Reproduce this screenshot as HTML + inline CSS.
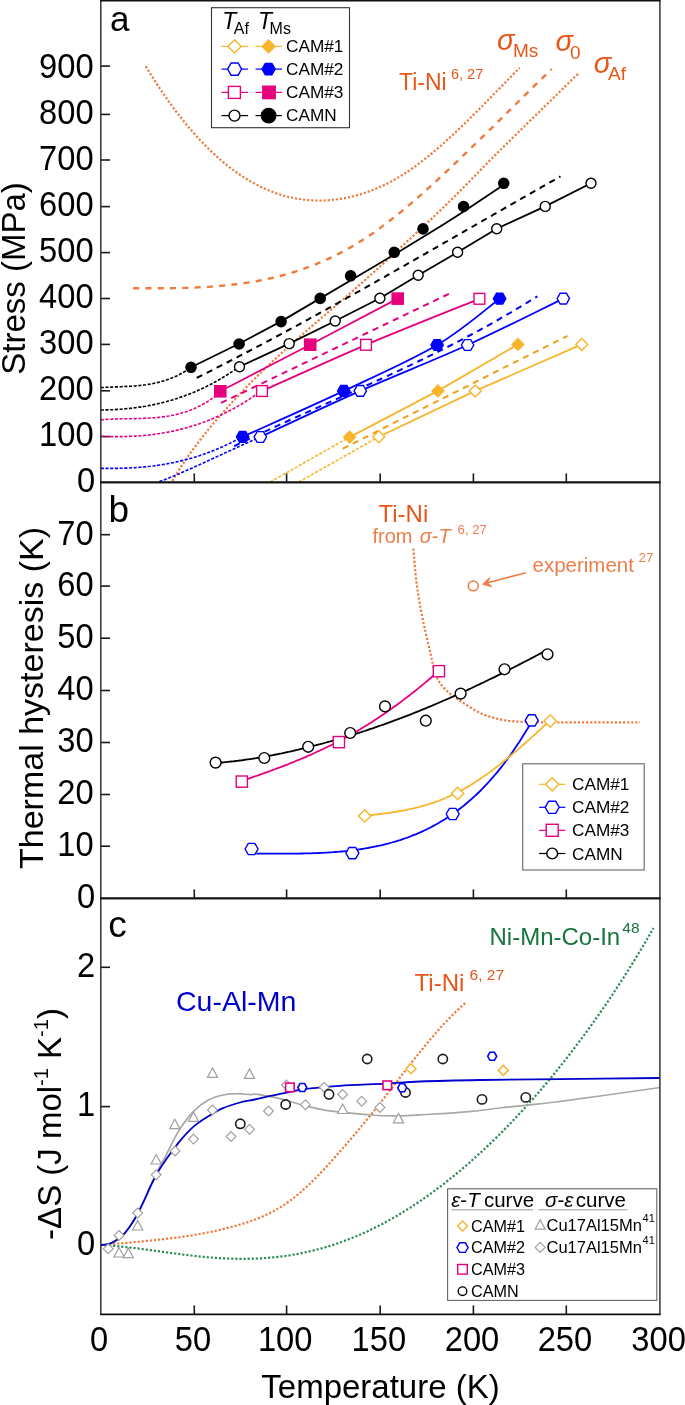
<!DOCTYPE html>
<html><head><meta charset="utf-8"><style>
html,body{margin:0;padding:0;background:#fff;}
svg{display:block;will-change:transform;}
text{font-family:"Liberation Sans",sans-serif;}
</style></head><body>
<svg width="685" height="1405" viewBox="0 0 685 1405" font-family="Liberation Sans, sans-serif">
<rect width="685" height="1405" fill="#fff"/>
<line x1="100.8" y1="66.1" x2="110.0" y2="66.1" stroke="#1a1a1a" stroke-width="1.6"/>
<line x1="100.8" y1="114.4" x2="110.0" y2="114.4" stroke="#1a1a1a" stroke-width="1.6"/>
<line x1="100.8" y1="160.0" x2="110.0" y2="160.0" stroke="#1a1a1a" stroke-width="1.6"/>
<line x1="100.8" y1="206.6" x2="110.0" y2="206.6" stroke="#1a1a1a" stroke-width="1.6"/>
<line x1="100.8" y1="252.6" x2="110.0" y2="252.6" stroke="#1a1a1a" stroke-width="1.6"/>
<line x1="100.8" y1="298.5" x2="110.0" y2="298.5" stroke="#1a1a1a" stroke-width="1.6"/>
<line x1="100.8" y1="344.4" x2="110.0" y2="344.4" stroke="#1a1a1a" stroke-width="1.6"/>
<line x1="100.8" y1="390.8" x2="110.0" y2="390.8" stroke="#1a1a1a" stroke-width="1.6"/>
<line x1="100.8" y1="436.6" x2="110.0" y2="436.6" stroke="#1a1a1a" stroke-width="1.6"/>
<text transform="translate(93.6,78.0) scale(0.99,1.04)" font-size="33" fill="#000" text-anchor="end" >900</text>
<text transform="translate(93.6,123.5) scale(0.99,1.04)" font-size="33" fill="#000" text-anchor="end" >800</text>
<text transform="translate(93.6,170.0) scale(0.99,1.04)" font-size="33" fill="#000" text-anchor="end" >700</text>
<text transform="translate(93.6,215.9) scale(0.99,1.04)" font-size="33" fill="#000" text-anchor="end" >600</text>
<text transform="translate(93.6,262.2) scale(0.99,1.04)" font-size="33" fill="#000" text-anchor="end" >500</text>
<text transform="translate(93.6,308.1) scale(0.99,1.04)" font-size="33" fill="#000" text-anchor="end" >400</text>
<text transform="translate(93.6,354.0) scale(0.99,1.04)" font-size="33" fill="#000" text-anchor="end" >300</text>
<text transform="translate(93.6,400.4) scale(0.99,1.04)" font-size="33" fill="#000" text-anchor="end" >200</text>
<text transform="translate(93.6,446.2) scale(0.99,1.04)" font-size="33" fill="#000" text-anchor="end" >100</text>
<text transform="translate(95.3,492.1) scale(0.99,1.04)" font-size="33" fill="#000" text-anchor="end" >0</text>
<line x1="194.3" y1="482.4" x2="194.3" y2="473.4" stroke="#1a1a1a" stroke-width="1.6"/>
<line x1="286.6" y1="482.4" x2="286.6" y2="473.4" stroke="#1a1a1a" stroke-width="1.6"/>
<line x1="380.2" y1="482.4" x2="380.2" y2="473.4" stroke="#1a1a1a" stroke-width="1.6"/>
<line x1="473.4" y1="482.4" x2="473.4" y2="473.4" stroke="#1a1a1a" stroke-width="1.6"/>
<line x1="566.3" y1="482.4" x2="566.3" y2="473.4" stroke="#1a1a1a" stroke-width="1.6"/>
<line x1="100.8" y1="534.7" x2="110.0" y2="534.7" stroke="#1a1a1a" stroke-width="1.6"/>
<line x1="100.8" y1="586.1" x2="110.0" y2="586.1" stroke="#1a1a1a" stroke-width="1.6"/>
<line x1="100.8" y1="638.2" x2="110.0" y2="638.2" stroke="#1a1a1a" stroke-width="1.6"/>
<line x1="100.8" y1="690.5" x2="110.0" y2="690.5" stroke="#1a1a1a" stroke-width="1.6"/>
<line x1="100.8" y1="742.5" x2="110.0" y2="742.5" stroke="#1a1a1a" stroke-width="1.6"/>
<line x1="100.8" y1="794.5" x2="110.0" y2="794.5" stroke="#1a1a1a" stroke-width="1.6"/>
<line x1="100.8" y1="846.2" x2="110.0" y2="846.2" stroke="#1a1a1a" stroke-width="1.6"/>
<text transform="translate(93.6,544.5) scale(0.99,1.04)" font-size="33" fill="#000" text-anchor="end" >70</text>
<text transform="translate(93.6,595.9) scale(0.99,1.04)" font-size="33" fill="#000" text-anchor="end" >60</text>
<text transform="translate(93.6,648.0) scale(0.99,1.04)" font-size="33" fill="#000" text-anchor="end" >50</text>
<text transform="translate(93.6,700.3) scale(0.99,1.04)" font-size="33" fill="#000" text-anchor="end" >40</text>
<text transform="translate(93.6,752.3) scale(0.99,1.04)" font-size="33" fill="#000" text-anchor="end" >30</text>
<text transform="translate(93.6,804.3) scale(0.99,1.04)" font-size="33" fill="#000" text-anchor="end" >20</text>
<text transform="translate(93.6,856.0) scale(0.99,1.04)" font-size="33" fill="#000" text-anchor="end" >10</text>
<text transform="translate(95.3,908.2) scale(0.99,1.04)" font-size="33" fill="#000" text-anchor="end" >0</text>
<line x1="194.3" y1="898.4" x2="194.3" y2="889.4" stroke="#1a1a1a" stroke-width="1.6"/>
<line x1="286.6" y1="898.4" x2="286.6" y2="889.4" stroke="#1a1a1a" stroke-width="1.6"/>
<line x1="380.2" y1="898.4" x2="380.2" y2="889.4" stroke="#1a1a1a" stroke-width="1.6"/>
<line x1="473.4" y1="898.4" x2="473.4" y2="889.4" stroke="#1a1a1a" stroke-width="1.6"/>
<line x1="566.3" y1="898.4" x2="566.3" y2="889.4" stroke="#1a1a1a" stroke-width="1.6"/>
<line x1="100.8" y1="967.3" x2="110.0" y2="967.3" stroke="#1a1a1a" stroke-width="1.6"/>
<line x1="100.8" y1="1106.6" x2="110.0" y2="1106.6" stroke="#1a1a1a" stroke-width="1.6"/>
<line x1="100.8" y1="1245.0" x2="110.0" y2="1245.0" stroke="#1a1a1a" stroke-width="1.6"/>
<text transform="translate(95.3,977.1) scale(0.99,1.04)" font-size="33" fill="#000" text-anchor="end" >2</text>
<text transform="translate(95.3,1116.4) scale(0.99,1.04)" font-size="33" fill="#000" text-anchor="end" >1</text>
<text transform="translate(95.3,1254.9) scale(0.99,1.04)" font-size="33" fill="#000" text-anchor="end" >0</text>
<line x1="194.3" y1="1314.4" x2="194.3" y2="1305.4" stroke="#1a1a1a" stroke-width="1.6"/>
<line x1="286.6" y1="1314.4" x2="286.6" y2="1305.4" stroke="#1a1a1a" stroke-width="1.6"/>
<line x1="380.2" y1="1314.4" x2="380.2" y2="1305.4" stroke="#1a1a1a" stroke-width="1.6"/>
<line x1="473.4" y1="1314.4" x2="473.4" y2="1305.4" stroke="#1a1a1a" stroke-width="1.6"/>
<line x1="566.3" y1="1314.4" x2="566.3" y2="1305.4" stroke="#1a1a1a" stroke-width="1.6"/>
<text transform="translate(99.2,1351.2) scale(0.99,1.04)" font-size="33" fill="#000" text-anchor="middle" >0</text>
<text transform="translate(192.9,1351.2) scale(0.99,1.04)" font-size="33" fill="#000" text-anchor="middle" >50</text>
<text transform="translate(285.2,1351.2) scale(0.99,1.04)" font-size="33" fill="#000" text-anchor="middle" >100</text>
<text transform="translate(378.8,1351.2) scale(0.99,1.04)" font-size="33" fill="#000" text-anchor="middle" >150</text>
<text transform="translate(472.0,1351.2) scale(0.99,1.04)" font-size="33" fill="#000" text-anchor="middle" >200</text>
<text transform="translate(564.9,1351.2) scale(0.99,1.04)" font-size="33" fill="#000" text-anchor="middle" >250</text>
<text transform="translate(658.6,1351.2) scale(0.99,1.04)" font-size="33" fill="#000" text-anchor="middle" >300</text>
<text transform="translate(380.5,1398.3) scale(1.0,1.0)" font-size="33" fill="#000" text-anchor="middle" >Temperature (K)</text>
<text transform="translate(24.6,278.5) rotate(-90)" font-size="33" text-anchor="middle">Stress (MPa)</text>
<text transform="translate(43.0,698) rotate(-90)" font-size="34" text-anchor="middle">Thermal hysteresis (K)</text>
<text transform="translate(61.0,1124) rotate(-90)" font-size="33" text-anchor="middle">-ΔS (J mol<tspan font-size="20" dy="-13">-1</tspan><tspan dy="13"> K</tspan><tspan font-size="20" dy="-13">-1</tspan><tspan dy="13">)</tspan></text>
<text transform="translate(110.0,31.4) scale(1.0,1.0)" font-size="35" fill="#000" >a</text>
<text transform="translate(108.4,522.0) scale(1.0,1.0)" font-size="37" fill="#000" >b</text>
<text transform="translate(108.3,937.2) scale(1.0,1.0)" font-size="37" fill="#000" >c</text>
<path d="M145.8,66.3 L147.8,69.6 L149.8,72.9 L151.9,76.2 L153.9,79.4 L155.9,82.5 L157.9,85.6 L159.9,88.7 L162.0,91.7 L164.0,94.6 L166.0,97.5 L168.0,100.4 L170.1,103.2 L172.1,106.0 L174.1,108.8 L176.1,111.5 L178.1,114.1 L180.2,116.7 L182.2,119.3 L184.2,121.8 L186.2,124.3 L188.2,126.7 L190.3,129.1 L192.3,131.4 L194.3,133.7 L196.3,136.0 L198.3,138.2 L200.4,140.4 L202.4,142.5 L204.4,144.6 L206.4,146.7 L208.5,148.7 L210.5,150.6 L212.5,152.6 L214.5,154.4 L216.5,156.3 L218.6,158.1 L220.6,159.9 L222.6,161.6 L224.6,163.3 L226.6,164.9 L228.7,166.5 L230.7,168.1 L232.7,169.6 L234.7,171.1 L236.7,172.5 L238.8,173.9 L240.8,175.3 L242.8,176.6 L244.8,177.9 L246.9,179.2 L248.9,180.4 L250.9,181.6 L252.9,182.7 L254.9,183.8 L257.0,184.9 L259.0,185.9 L261.0,186.9 L263.0,187.9 L265.0,188.8 L267.1,189.7 L269.1,190.5 L271.1,191.3 L273.1,192.1 L275.1,192.9 L277.2,193.6 L279.2,194.2 L281.2,194.9 L283.2,195.5 L285.3,196.0 L287.3,196.6 L289.3,197.1 L291.3,197.5 L293.3,198.0 L295.4,198.4 L297.4,198.7 L299.4,199.0 L301.4,199.3 L303.4,199.6 L305.5,199.8 L307.5,200.0 L309.5,200.2 L311.5,200.3 L313.5,200.4 L315.6,200.5 L317.6,200.6 L319.6,200.6 L321.6,200.5 L323.7,200.5 L325.7,200.4 L327.7,200.3 L329.7,200.1 L331.7,200.0 L333.8,199.7 L335.8,199.5 L337.8,199.2 L339.8,198.9 L341.8,198.6 L343.9,198.3 L345.9,197.9 L347.9,197.5 L349.9,197.0 L352.0,196.5 L354.0,196.0 L356.0,195.5 L358.0,195.0 L360.0,194.4 L362.1,193.8 L364.1,193.1 L366.1,192.4 L368.1,191.7 L370.1,191.0 L372.2,190.2 L374.2,189.4 L376.2,188.6 L378.2,187.7 L380.2,186.8 L382.3,185.9 L384.3,185.0 L386.3,184.0 L388.3,183.0 L390.4,181.9 L392.4,180.8 L394.4,179.7 L396.4,178.6 L398.4,177.4 L400.5,176.2 L402.5,174.9 L404.5,173.6 L406.5,172.3 L408.5,171.0 L410.6,169.6 L412.6,168.2 L414.6,166.8 L416.6,165.3 L418.6,163.8 L420.7,162.3 L422.7,160.7 L424.7,159.2 L426.7,157.6 L428.8,155.9 L430.8,154.3 L432.8,152.6 L434.8,150.9 L436.8,149.2 L438.9,147.4 L440.9,145.7 L442.9,143.9 L444.9,142.1 L446.9,140.2 L449.0,138.4 L451.0,136.5 L453.0,134.7 L455.0,132.8 L457.0,130.9 L459.1,128.9 L461.1,127.0 L463.1,125.0 L465.1,123.1 L467.2,121.1 L469.2,119.1 L471.2,117.1 L473.2,115.1 L475.2,113.1 L477.3,111.1 L479.3,109.0 L481.3,107.0 L483.3,104.9 L485.3,102.9 L487.4,100.8 L489.4,98.8 L491.4,96.7 L493.4,94.6 L495.4,92.5 L497.5,90.5 L499.5,88.4 L501.5,86.3 L503.5,84.2 L505.6,82.2 L507.6,80.1 L509.6,78.0 L511.6,75.9 L513.6,73.9 L515.7,71.8 L517.7,69.8 L519.7,67.7" fill="none" stroke="#EE7B3E" stroke-width="2.2" stroke-dasharray="2.2,1.9" stroke-linejoin="round" />
<path d="M133.1,288.2 L135.1,288.2 L137.1,288.2 L139.1,288.2 L141.2,288.2 L143.2,288.3 L145.2,288.3 L147.2,288.3 L149.2,288.3 L151.2,288.3 L153.2,288.3 L155.2,288.3 L157.2,288.3 L159.3,288.3 L161.3,288.2 L163.3,288.2 L165.3,288.2 L167.3,288.2 L169.3,288.2 L171.3,288.2 L173.3,288.1 L175.4,288.1 L177.4,288.1 L179.4,288.0 L181.4,288.0 L183.4,287.9 L185.4,287.9 L187.4,287.8 L189.4,287.7 L191.5,287.7 L193.5,287.6 L195.5,287.5 L197.5,287.4 L199.5,287.3 L201.5,287.2 L203.5,287.1 L205.6,287.0 L207.6,286.9 L209.6,286.8 L211.6,286.6 L213.6,286.5 L215.6,286.3 L217.6,286.2 L219.6,286.0 L221.7,285.8 L223.7,285.6 L225.7,285.4 L227.7,285.2 L229.7,285.0 L231.7,284.8 L233.7,284.5 L235.7,284.3 L237.8,284.0 L239.8,283.8 L241.8,283.5 L243.8,283.2 L245.8,282.9 L247.8,282.6 L249.8,282.3 L251.8,282.0 L253.9,281.6 L255.9,281.3 L257.9,280.9 L259.9,280.5 L261.9,280.1 L263.9,279.7 L265.9,279.3 L267.9,278.9 L270.0,278.4 L272.0,278.0 L274.0,277.5 L276.0,277.0 L278.0,276.5 L280.0,276.0 L282.0,275.5 L284.0,274.9 L286.1,274.4 L288.1,273.8 L290.1,273.2 L292.1,272.6 L294.1,272.0 L296.1,271.4 L298.1,270.7 L300.1,270.0 L302.1,269.4 L304.2,268.6 L306.2,267.9 L308.2,267.2 L310.2,266.4 L312.2,265.7 L314.2,264.9 L316.2,264.1 L318.2,263.2 L320.3,262.4 L322.3,261.5 L324.3,260.7 L326.3,259.8 L328.3,258.8 L330.3,257.9 L332.3,256.9 L334.4,256.0 L336.4,255.0 L338.4,253.9 L340.4,252.9 L342.4,251.8 L344.4,250.8 L346.4,249.7 L348.4,248.5 L350.5,247.4 L352.5,246.2 L354.5,245.0 L356.5,243.8 L358.5,242.6 L360.5,241.3 L362.5,240.1 L364.5,238.8 L366.6,237.4 L368.6,236.1 L370.6,234.7 L372.6,233.4 L374.6,232.0 L376.6,230.5 L378.6,229.1 L380.6,227.6 L382.6,226.1 L384.7,224.6 L386.7,223.1 L388.7,221.6 L390.7,220.0 L392.7,218.4 L394.7,216.9 L396.7,215.3 L398.8,213.6 L400.8,212.0 L402.8,210.3 L404.8,208.7 L406.8,207.0 L408.8,205.3 L410.8,203.6 L412.8,201.9 L414.9,200.1 L416.9,198.4 L418.9,196.6 L420.9,194.9 L422.9,193.1 L424.9,191.3 L426.9,189.5 L428.9,187.7 L431.0,185.8 L433.0,184.0 L435.0,182.2 L437.0,180.3 L439.0,178.5 L441.0,176.6 L443.0,174.7 L445.0,172.8 L447.1,170.9 L449.1,169.0 L451.1,167.1 L453.1,165.2 L455.1,163.3 L457.1,161.4 L459.1,159.5 L461.1,157.6 L463.1,155.6 L465.2,153.7 L467.2,151.8 L469.2,149.8 L471.2,147.9 L473.2,145.9 L475.2,144.0 L477.2,142.0 L479.2,140.1 L481.3,138.1 L483.3,136.1 L485.3,134.2 L487.3,132.2 L489.3,130.2 L491.3,128.3 L493.3,126.3 L495.4,124.3 L497.4,122.3 L499.4,120.4 L501.4,118.4 L503.4,116.4 L505.4,114.4 L507.4,112.4 L509.4,110.4 L511.5,108.5 L513.5,106.5 L515.5,104.5 L517.5,102.5 L519.5,100.5 L521.5,98.5 L523.5,96.6 L525.5,94.6 L527.6,92.6 L529.6,90.6 L531.6,88.6 L533.6,86.7 L535.6,84.7 L537.6,82.7 L539.6,80.8 L541.6,78.8 L543.6,76.8 L545.7,74.9 L547.7,72.9 L549.7,70.9 L551.7,69.0" fill="none" stroke="#EE7B3E" stroke-width="2.4" stroke-dasharray="6.1,6.2" stroke-linejoin="round" />
<path d="M172.3,481.0 L174.3,477.5 L176.3,474.2 L178.3,471.0 L180.4,467.8 L182.4,464.7 L184.4,461.7 L186.4,458.7 L188.4,455.8 L190.4,453.0 L192.4,450.2 L194.5,447.4 L196.5,444.7 L198.5,442.1 L200.5,439.5 L202.5,436.9 L204.5,434.3 L206.6,431.8 L208.6,429.4 L210.6,426.9 L212.6,424.5 L214.6,422.1 L216.6,419.8 L218.6,417.4 L220.7,415.1 L222.7,412.8 L224.7,410.5 L226.7,408.3 L228.7,406.0 L230.7,403.8 L232.7,401.6 L234.8,399.4 L236.8,397.2 L238.8,395.1 L240.8,393.0 L242.8,390.8 L244.8,388.7 L246.8,386.7 L248.9,384.6 L250.9,382.5 L252.9,380.5 L254.9,378.5 L256.9,376.5 L258.9,374.5 L261.0,372.5 L263.0,370.6 L265.0,368.6 L267.0,366.7 L269.0,364.8 L271.0,362.9 L273.0,361.0 L275.1,359.1 L277.1,357.2 L279.1,355.3 L281.1,353.5 L283.1,351.7 L285.1,349.8 L287.1,348.0 L289.2,346.2 L291.2,344.4 L293.2,342.6 L295.2,340.8 L297.2,339.0 L299.2,337.3 L301.3,335.5 L303.3,333.7 L305.3,332.0 L307.3,330.2 L309.3,328.5 L311.3,326.7 L313.3,325.0 L315.4,323.2 L317.4,321.5 L319.4,319.8 L321.4,318.0 L323.4,316.3 L325.4,314.6 L327.4,312.8 L329.5,311.1 L331.5,309.4 L333.5,307.7 L335.5,305.9 L337.5,304.2 L339.5,302.4 L341.5,300.7 L343.6,299.0 L345.6,297.2 L347.6,295.5 L349.6,293.7 L351.6,291.9 L353.6,290.2 L355.7,288.4 L357.7,286.6 L359.7,284.8 L361.7,283.1 L363.7,281.3 L365.7,279.5 L367.7,277.7 L369.8,275.8 L371.8,274.0 L373.8,272.2 L375.8,270.4 L377.8,268.5 L379.8,266.7 L381.8,264.9 L383.9,263.0 L385.9,261.2 L387.9,259.3 L389.9,257.4 L391.9,255.6 L393.9,253.7 L395.9,251.8 L398.0,250.0 L400.0,248.1 L402.0,246.2 L404.0,244.4 L406.0,242.5 L408.0,240.6 L410.1,238.8 L412.1,236.9 L414.1,235.0 L416.1,233.1 L418.1,231.3 L420.1,229.4 L422.1,227.5 L424.2,225.6 L426.2,223.8 L428.2,221.9 L430.2,220.0 L432.2,218.1 L434.2,216.2 L436.2,214.2 L438.3,212.3 L440.3,210.4 L442.3,208.5 L444.3,206.5 L446.3,204.6 L448.3,202.6 L450.3,200.6 L452.4,198.6 L454.4,196.7 L456.4,194.7 L458.4,192.6 L460.4,190.6 L462.4,188.6 L464.5,186.5 L466.5,184.5 L468.5,182.4 L470.5,180.3 L472.5,178.2 L474.5,176.2 L476.5,174.1 L478.6,172.0 L480.6,169.9 L482.6,167.9 L484.6,165.8 L486.6,163.8 L488.6,161.7 L490.6,159.7 L492.7,157.7 L494.7,155.6 L496.7,153.6 L498.7,151.6 L500.7,149.6 L502.7,147.6 L504.8,145.6 L506.8,143.6 L508.8,141.6 L510.8,139.6 L512.8,137.6 L514.8,135.6 L516.8,133.7 L518.9,131.7 L520.9,129.7 L522.9,127.7 L524.9,125.8 L526.9,123.8 L528.9,121.8 L530.9,119.9 L533.0,117.9 L535.0,115.9 L537.0,114.0 L539.0,112.0 L541.0,110.0 L543.0,108.1 L545.0,106.1 L547.1,104.1 L549.1,102.2 L551.1,100.2 L553.1,98.2 L555.1,96.3 L557.1,94.3 L559.2,92.3 L561.2,90.4 L563.2,88.4 L565.2,86.4 L567.2,84.4 L569.2,82.4 L571.2,80.4 L573.3,78.5 L575.3,76.5 L577.3,74.5 L579.3,72.5" fill="none" stroke="#EE7B3E" stroke-width="2.2" stroke-dasharray="2.2,1.9" stroke-linejoin="round" />
<path d="M270.2,482.0 L349.6,437.1" fill="none" stroke="#F7B52C" stroke-width="1.6" stroke-dasharray="3.1,1.6" stroke-linejoin="round" />
<path d="M298.8,482.0 L378.8,436.8" fill="none" stroke="#F7B52C" stroke-width="1.6" stroke-dasharray="3.1,1.6" stroke-linejoin="round" />
<path d="M342.8,448.6 L567.5,335.8" fill="none" stroke="#EE9E1A" stroke-width="2.0" stroke-dasharray="6.2,5" stroke-linejoin="round" />
<path d="M349.6,437.1 L437.9,390.9 L517.9,344.4" fill="none" stroke="#F7B52C" stroke-width="1.8" stroke-linejoin="round" />
<path d="M378.8,436.8 L475.3,390.9 L581.7,344.4" fill="none" stroke="#F7B52C" stroke-width="1.8" stroke-linejoin="round" />
<path d="M100.8,468.4 L102.9,468.4 L104.9,468.4 L107.0,468.4 L109.0,468.4 L111.1,468.4 L113.1,468.4 L115.2,468.4 L117.2,468.4 L119.3,468.3 L121.4,468.3 L123.4,468.2 L125.5,468.1 L127.5,468.1 L129.6,468.0 L131.6,467.8 L133.7,467.7 L135.7,467.6 L137.8,467.4 L139.8,467.3 L141.9,467.1 L144.0,466.9 L146.0,466.7 L148.1,466.5 L150.1,466.3 L152.2,466.0 L154.2,465.8 L156.3,465.5 L158.3,465.2 L160.4,464.9 L162.5,464.6 L164.5,464.2 L166.6,463.9 L168.6,463.5 L170.7,463.1 L172.7,462.7 L174.8,462.3 L176.8,461.8 L178.9,461.4 L180.9,460.9 L183.0,460.4 L185.1,459.9 L187.1,459.3 L189.2,458.8 L191.2,458.2 L193.3,457.6 L195.3,457.0 L197.4,456.3 L199.4,455.7 L201.5,455.0 L203.6,454.3 L205.6,453.6 L207.7,452.8 L209.7,452.0 L211.8,451.3 L213.8,450.4 L215.9,449.6 L217.9,448.7 L220.0,447.9 L222.0,446.9 L224.1,446.0 L226.2,445.1 L228.2,444.1 L230.3,443.1 L232.3,442.0 L234.4,441.0 L236.4,439.9 L238.5,438.8 L240.5,437.7 L242.6,436.5" fill="none" stroke="#0000FF" stroke-width="1.6" stroke-dasharray="3.1,1.6" stroke-linejoin="round" />
<path d="M159.5,481.6 L161.6,480.8 L163.6,480.0 L165.7,479.2 L167.7,478.4 L169.8,477.6 L171.8,476.7 L173.9,475.9 L176.0,475.0 L178.0,474.2 L180.1,473.3 L182.1,472.4 L184.2,471.5 L186.2,470.6 L188.3,469.7 L190.4,468.8 L192.4,467.9 L194.5,467.0 L196.5,466.1 L198.6,465.1 L200.6,464.2 L202.7,463.3 L204.8,462.3 L206.8,461.4 L208.9,460.4 L210.9,459.5 L213.0,458.5 L215.0,457.6 L217.1,456.6 L219.2,455.7 L221.2,454.7 L223.3,453.8 L225.3,452.8 L227.4,451.9 L229.4,450.9 L231.5,450.0 L233.6,449.0 L235.6,448.1 L237.7,447.1 L239.7,446.2 L241.8,445.3 L243.8,444.3 L245.9,443.4 L248.0,442.5 L250.0,441.6 L252.1,440.7 L254.1,439.8 L256.2,438.9 L258.2,438.0 L260.3,437.1" fill="none" stroke="#0000FF" stroke-width="1.6" stroke-dasharray="3.1,1.6" stroke-linejoin="round" />
<path d="M234.2,446.2 L236.2,445.2 L238.2,444.2 L240.3,443.2 L242.3,442.3 L244.3,441.3 L246.3,440.3 L248.3,439.4 L250.4,438.4 L252.4,437.4 L254.4,436.5 L256.4,435.5 L258.4,434.6 L260.5,433.6 L262.5,432.7 L264.5,431.7 L266.5,430.8 L268.6,429.8 L270.6,428.9 L272.6,428.0 L274.6,427.0 L276.6,426.1 L278.7,425.2 L280.7,424.2 L282.7,423.3 L284.7,422.4 L286.7,421.5 L288.8,420.5 L290.8,419.6 L292.8,418.7 L294.8,417.8 L296.8,416.9 L298.9,416.0 L300.9,415.0 L302.9,414.1 L304.9,413.2 L306.9,412.3 L309.0,411.4 L311.0,410.5 L313.0,409.6 L315.0,408.7 L317.0,407.8 L319.1,406.9 L321.1,405.9 L323.1,405.0 L325.1,404.1 L327.2,403.2 L329.2,402.3 L331.2,401.4 L333.2,400.5 L335.2,399.6 L337.3,398.7 L339.3,397.8 L341.3,396.9 L343.3,396.0 L345.3,395.1 L347.4,394.2 L349.4,393.3 L351.4,392.4 L353.4,391.4 L355.4,390.5 L357.5,389.6 L359.5,388.7 L361.5,387.8 L363.5,386.9 L365.5,386.0 L367.6,385.0 L369.6,384.1 L371.6,383.2 L373.6,382.3 L375.6,381.4 L377.7,380.4 L379.7,379.5 L381.7,378.6 L383.7,377.7 L385.8,376.7 L387.8,375.8 L389.8,374.9 L391.8,373.9 L393.8,373.0 L395.9,372.0 L397.9,371.1 L399.9,370.2 L401.9,369.2 L403.9,368.3 L406.0,367.3 L408.0,366.3 L410.0,365.4 L412.0,364.4 L414.0,363.5 L416.1,362.5 L418.1,361.5 L420.1,360.5 L422.1,359.6 L424.1,358.6 L426.2,357.6 L428.2,356.6 L430.2,355.6 L432.2,354.6 L434.2,353.6 L436.3,352.6 L438.3,351.6 L440.3,350.6 L442.3,349.6 L444.3,348.6 L446.4,347.6 L448.4,346.5 L450.4,345.5 L452.4,344.5 L454.5,343.4 L456.5,342.4 L458.5,341.3 L460.5,340.3 L462.5,339.2 L464.6,338.2 L466.6,337.1 L468.6,336.0 L470.6,335.0 L472.6,333.9 L474.7,332.8 L476.7,331.7 L478.7,330.6 L480.7,329.5 L482.7,328.4 L484.8,327.3 L486.8,326.2 L488.8,325.1 L490.8,323.9 L492.8,322.8 L494.9,321.7 L496.9,320.5 L498.9,319.4 L500.9,318.2 L502.9,317.0 L505.0,315.9 L507.0,314.7 L509.0,313.5 L511.0,312.3 L513.1,311.1 L515.1,309.9 L517.1,308.7 L519.1,307.5 L521.1,306.3 L523.2,305.1 L525.2,303.8 L527.2,302.6 L529.2,301.3 L531.2,300.1 L533.3,298.8 L535.3,297.6 L537.3,296.3" fill="none" stroke="#0000FF" stroke-width="2.0" stroke-dasharray="6.2,5" stroke-linejoin="round" />
<path d="M242.6,436.8 C259.5,429.1 311.4,406.2 343.8,390.9 C376.2,375.6 411.1,360.4 437.1,345.0 C463.1,329.6 489.2,306.4 499.6,298.7" fill="none" stroke="#0000FF" stroke-width="1.8" stroke-linejoin="round" />
<path d="M260.3,437.0 C277.0,429.3 325.8,406.2 360.3,390.9 C394.9,375.6 433.8,360.4 467.6,345.0 C501.4,329.6 547.3,306.3 563.3,298.6" fill="none" stroke="#0000FF" stroke-width="1.8" stroke-linejoin="round" />
<path d="M100.8,419.9 L102.9,419.7 L104.9,419.6 L107.0,419.4 L109.0,419.3 L111.1,419.2 L113.2,419.1 L115.2,419.0 L117.3,418.9 L119.3,418.9 L121.4,418.8 L123.5,418.8 L125.5,418.8 L127.6,418.7 L129.6,418.7 L131.7,418.7 L133.8,418.6 L135.8,418.6 L137.9,418.5 L139.9,418.5 L142.0,418.4 L144.1,418.3 L146.1,418.3 L148.2,418.2 L150.2,418.0 L152.3,417.9 L154.4,417.8 L156.4,417.6 L158.5,417.4 L160.6,417.2 L162.6,416.9 L164.7,416.6 L166.7,416.3 L168.8,416.0 L170.9,415.6 L172.9,415.2 L175.0,414.8 L177.0,414.3 L179.1,413.8 L181.2,413.2 L183.2,412.6 L185.3,412.0 L187.3,411.3 L189.4,410.5 L191.5,409.7 L193.5,408.9 L195.6,408.0 L197.6,407.0 L199.7,406.0 L201.8,404.9 L203.8,403.8 L205.9,402.6 L207.9,401.3 L210.0,400.0 L212.1,398.6 L214.1,397.1 L216.2,395.6 L218.2,394.0 L220.3,392.3" fill="none" stroke="#E6007E" stroke-width="1.6" stroke-dasharray="3.1,1.6" stroke-linejoin="round" />
<path d="M100.8,436.2 L102.8,436.3 L104.9,436.4 L106.9,436.5 L109.0,436.5 L111.0,436.6 L113.0,436.6 L115.1,436.6 L117.1,436.6 L119.2,436.6 L121.2,436.6 L123.2,436.6 L125.3,436.5 L127.3,436.5 L129.4,436.4 L131.4,436.3 L133.4,436.2 L135.5,436.1 L137.5,436.0 L139.6,435.8 L141.6,435.7 L143.7,435.5 L145.7,435.3 L147.7,435.1 L149.8,434.9 L151.8,434.6 L153.9,434.4 L155.9,434.1 L157.9,433.8 L160.0,433.5 L162.0,433.2 L164.1,432.8 L166.1,432.5 L168.1,432.1 L170.2,431.7 L172.2,431.3 L174.3,430.8 L176.3,430.4 L178.3,429.9 L180.4,429.4 L182.4,428.9 L184.5,428.3 L186.5,427.8 L188.5,427.2 L190.6,426.6 L192.6,426.0 L194.7,425.3 L196.7,424.7 L198.7,424.0 L200.8,423.3 L202.8,422.5 L204.9,421.8 L206.9,421.0 L208.9,420.2 L211.0,419.4 L213.0,418.5 L215.1,417.6 L217.1,416.7 L219.1,415.8 L221.2,414.9 L223.2,413.9 L225.3,412.9 L227.3,411.9 L229.4,410.8 L231.4,409.8 L233.4,408.7 L235.5,407.5 L237.5,406.4 L239.6,405.2 L241.6,404.0 L243.6,402.8 L245.7,401.5 L247.7,400.2 L249.8,398.9 L251.8,397.5 L253.8,396.2 L255.9,394.8 L257.9,393.3 L260.0,391.9 L262.0,390.4" fill="none" stroke="#E6007E" stroke-width="1.6" stroke-dasharray="3.1,1.6" stroke-linejoin="round" />
<path d="M221.1,402.9 L449.0,293.8" fill="none" stroke="#E6007E" stroke-width="2.0" stroke-dasharray="6.2,5" stroke-linejoin="round" />
<path d="M220.3,391.3 C235.3,383.5 280.6,360.1 310.2,344.7 C339.8,329.2 383.1,306.3 397.7,298.6" fill="none" stroke="#E6007E" stroke-width="1.8" stroke-linejoin="round" />
<path d="M262.0,391.0 C279.3,383.3 329.8,360.2 366.0,344.8 C402.2,329.4 460.5,306.5 479.4,298.8" fill="none" stroke="#E6007E" stroke-width="1.8" stroke-linejoin="round" />
<path d="M100.8,387.6 L102.8,387.5 L104.9,387.4 L107.0,387.3 L109.0,387.2 L111.0,387.1 L113.1,387.0 L115.2,386.9 L117.2,386.9 L119.2,386.8 L121.3,386.7 L123.3,386.6 L125.4,386.5 L127.5,386.4 L129.5,386.3 L131.6,386.2 L133.6,386.0 L135.7,385.9 L137.7,385.7 L139.8,385.5 L141.8,385.3 L143.8,385.0 L145.9,384.8 L147.9,384.4 L150.0,384.1 L152.1,383.7 L154.1,383.3 L156.2,382.9 L158.2,382.4 L160.2,381.9 L162.3,381.3 L164.4,380.7 L166.4,380.0 L168.4,379.3 L170.5,378.5 L172.6,377.7 L174.6,376.8 L176.7,375.9 L178.7,374.9 L180.8,373.8 L182.8,372.7 L184.9,371.5 L186.9,370.3 L188.9,368.9 L191.0,367.5" fill="none" stroke="#000" stroke-width="1.6" stroke-dasharray="3.1,1.6" stroke-linejoin="round" />
<path d="M100.8,410.0 L102.8,410.0 L104.9,409.9 L106.9,409.9 L109.0,409.8 L111.0,409.8 L113.0,409.7 L115.1,409.6 L117.1,409.4 L119.2,409.3 L121.2,409.2 L123.2,409.0 L125.3,408.8 L127.3,408.6 L129.4,408.4 L131.4,408.2 L133.4,407.9 L135.5,407.7 L137.5,407.4 L139.6,407.1 L141.6,406.8 L143.6,406.5 L145.7,406.2 L147.7,405.8 L149.8,405.4 L151.8,405.0 L153.8,404.6 L155.9,404.2 L157.9,403.7 L160.0,403.2 L162.0,402.7 L164.0,402.2 L166.1,401.7 L168.1,401.1 L170.1,400.5 L172.2,400.0 L174.2,399.3 L176.3,398.7 L178.3,398.0 L180.3,397.3 L182.4,396.6 L184.4,395.9 L186.5,395.1 L188.5,394.4 L190.5,393.6 L192.6,392.7 L194.6,391.9 L196.7,391.0 L198.7,390.1 L200.7,389.2 L202.8,388.2 L204.8,387.3 L206.9,386.3 L208.9,385.2 L210.9,384.2 L213.0,383.1 L215.0,382.0 L217.1,380.9 L219.1,379.7 L221.1,378.5 L223.2,377.3 L225.2,376.1 L227.3,374.8 L229.3,373.5 L231.3,372.2 L233.4,370.8 L235.4,369.4 L237.5,368.0 L239.5,366.6" fill="none" stroke="#000" stroke-width="1.6" stroke-dasharray="3.1,1.6" stroke-linejoin="round" />
<path d="M196.7,377.9 L198.7,376.9 L200.7,375.9 L202.8,374.8 L204.8,373.8 L206.8,372.8 L208.8,371.8 L210.8,370.8 L212.9,369.7 L214.9,368.7 L216.9,367.7 L218.9,366.7 L221.0,365.6 L223.0,364.6 L225.0,363.6 L227.0,362.5 L229.0,361.5 L231.1,360.4 L233.1,359.4 L235.1,358.3 L237.1,357.3 L239.1,356.2 L241.2,355.2 L243.2,354.1 L245.2,353.1 L247.2,352.0 L249.2,351.0 L251.3,349.9 L253.3,348.8 L255.3,347.8 L257.3,346.7 L259.4,345.7 L261.4,344.6 L263.4,343.5 L265.4,342.4 L267.4,341.4 L269.5,340.3 L271.5,339.2 L273.5,338.1 L275.5,337.0 L277.5,336.0 L279.6,334.9 L281.6,333.8 L283.6,332.7 L285.6,331.6 L287.6,330.5 L289.7,329.4 L291.7,328.3 L293.7,327.3 L295.7,326.2 L297.8,325.1 L299.8,324.0 L301.8,322.9 L303.8,321.8 L305.8,320.7 L307.9,319.6 L309.9,318.4 L311.9,317.3 L313.9,316.2 L315.9,315.1 L318.0,314.0 L320.0,312.9 L322.0,311.8 L324.0,310.7 L326.1,309.6 L328.1,308.4 L330.1,307.3 L332.1,306.2 L334.1,305.1 L336.2,304.0 L338.2,302.8 L340.2,301.7 L342.2,300.6 L344.2,299.5 L346.3,298.3 L348.3,297.2 L350.3,296.1 L352.3,295.0 L354.3,293.8 L356.4,292.7 L358.4,291.6 L360.4,290.4 L362.4,289.3 L364.5,288.2 L366.5,287.0 L368.5,285.9 L370.5,284.8 L372.5,283.6 L374.6,282.5 L376.6,281.3 L378.6,280.2 L380.6,279.1 L382.6,277.9 L384.7,276.8 L386.7,275.6 L388.7,274.5 L390.7,273.3 L392.7,272.2 L394.8,271.0 L396.8,269.9 L398.8,268.7 L400.8,267.6 L402.9,266.5 L404.9,265.3 L406.9,264.2 L408.9,263.0 L410.9,261.9 L413.0,260.7 L415.0,259.5 L417.0,258.4 L419.0,257.2 L421.0,256.1 L423.1,254.9 L425.1,253.8 L427.1,252.6 L429.1,251.5 L431.1,250.3 L433.2,249.2 L435.2,248.0 L437.2,246.9 L439.2,245.7 L441.3,244.5 L443.3,243.4 L445.3,242.2 L447.3,241.1 L449.3,239.9 L451.4,238.8 L453.4,237.6 L455.4,236.4 L457.4,235.3 L459.4,234.1 L461.5,233.0 L463.5,231.8 L465.5,230.6 L467.5,229.5 L469.6,228.3 L471.6,227.2 L473.6,226.0 L475.6,224.8 L477.6,223.7 L479.7,222.5 L481.7,221.4 L483.7,220.2 L485.7,219.1 L487.7,217.9 L489.8,216.7 L491.8,215.6 L493.8,214.4 L495.8,213.3 L497.8,212.1 L499.9,210.9 L501.9,209.8 L503.9,208.6 L505.9,207.5 L508.0,206.3 L510.0,205.2 L512.0,204.0 L514.0,202.9 L516.0,201.7 L518.1,200.5 L520.1,199.4 L522.1,198.2 L524.1,197.1 L526.1,195.9 L528.2,194.8 L530.2,193.6 L532.2,192.5 L534.2,191.3 L536.2,190.2 L538.3,189.0 L540.3,187.9 L542.3,186.7 L544.3,185.6 L546.4,184.4 L548.4,183.3 L550.4,182.1 L552.4,181.0 L554.4,179.8 L556.5,178.7 L558.5,177.5 L560.5,176.4" fill="none" stroke="#000" stroke-width="2.0" stroke-dasharray="6.2,5" stroke-linejoin="round" />
<path d="M191.1,367.2 L239.0,343.8 L280.6,321.6 L320.2,298.4 L352.6,279.3 L394.3,254.6 L427.5,234.3 L445.0,223.6 L462.6,212.3 L503.4,185.0" fill="none" stroke="#000" stroke-width="1.8" stroke-linejoin="round" />
<path d="M239.5,366.8 L289.2,343.6 L335.2,321.0 L379.9,298.3 L418.2,275.3 L457.6,252.3 L496.7,228.7 L545.2,206.4 L591.0,183.3" fill="none" stroke="#000" stroke-width="1.8" stroke-linejoin="round" />
<path d="M349.6,431.2 L355.5,437.1 L349.6,443.0 L343.7,437.1 Z" fill="#F7B52C" stroke="#F7B52C" stroke-width="1.4"/>
<path d="M437.9,385.0 L443.8,390.9 L437.9,396.8 L432.0,390.9 Z" fill="#F7B52C" stroke="#F7B52C" stroke-width="1.4"/>
<path d="M517.9,338.5 L523.8,344.4 L517.9,350.3 L512.0,344.4 Z" fill="#F7B52C" stroke="#F7B52C" stroke-width="1.4"/>
<path d="M378.8,430.8 L384.8,436.8 L378.8,442.8 L372.8,436.8 Z" fill="#fff" stroke="#F7B52C" stroke-width="1.4"/>
<path d="M475.3,384.9 L481.3,390.9 L475.3,396.9 L469.3,390.9 Z" fill="#fff" stroke="#F7B52C" stroke-width="1.4"/>
<path d="M581.7,338.4 L587.7,344.4 L581.7,350.4 L575.7,344.4 Z" fill="#fff" stroke="#F7B52C" stroke-width="1.4"/>
<path d="M236.4,436.8 239.5,431.4 245.7,431.4 248.8,436.8 245.7,442.2 239.5,442.2 Z" fill="#0000FF" stroke="#0000FF" stroke-width="1.4"/>
<path d="M337.6,390.9 340.7,385.5 346.9,385.5 350.0,390.9 346.9,396.3 340.7,396.3 Z" fill="#0000FF" stroke="#0000FF" stroke-width="1.4"/>
<path d="M430.9,345.0 434.0,339.6 440.2,339.6 443.3,345.0 440.2,350.4 434.0,350.4 Z" fill="#0000FF" stroke="#0000FF" stroke-width="1.4"/>
<path d="M493.4,298.7 496.5,293.3 502.7,293.3 505.8,298.7 502.7,304.1 496.5,304.1 Z" fill="#0000FF" stroke="#0000FF" stroke-width="1.4"/>
<path d="M254.1,437.0 257.2,431.6 263.4,431.6 266.5,437.0 263.4,442.4 257.2,442.4 Z" fill="#fff" stroke="#0000FF" stroke-width="1.4"/>
<path d="M354.1,390.9 357.2,385.5 363.4,385.5 366.5,390.9 363.4,396.3 357.2,396.3 Z" fill="#fff" stroke="#0000FF" stroke-width="1.4"/>
<path d="M461.4,345.0 464.5,339.6 470.7,339.6 473.8,345.0 470.7,350.4 464.5,350.4 Z" fill="#fff" stroke="#0000FF" stroke-width="1.4"/>
<path d="M557.1,298.6 560.2,293.2 566.4,293.2 569.5,298.6 566.4,304.0 560.2,304.0 Z" fill="#fff" stroke="#0000FF" stroke-width="1.4"/>
<rect x="214.7" y="385.7" width="11.2" height="11.2" fill="#E6007E" stroke="#E6007E" stroke-width="1.4"/>
<rect x="304.6" y="339.1" width="11.2" height="11.2" fill="#E6007E" stroke="#E6007E" stroke-width="1.4"/>
<rect x="392.1" y="293.0" width="11.2" height="11.2" fill="#E6007E" stroke="#E6007E" stroke-width="1.4"/>
<rect x="256.6" y="385.6" width="10.8" height="10.8" fill="#fff" stroke="#E6007E" stroke-width="1.4"/>
<rect x="360.6" y="339.4" width="10.8" height="10.8" fill="#fff" stroke="#E6007E" stroke-width="1.4"/>
<rect x="474.0" y="293.4" width="10.8" height="10.8" fill="#fff" stroke="#E6007E" stroke-width="1.4"/>
<circle cx="191.0" cy="367.3" r="5.1" fill="#000" stroke="#000" stroke-width="1.4"/>
<circle cx="239.1" cy="344.0" r="5.1" fill="#000" stroke="#000" stroke-width="1.4"/>
<circle cx="281.1" cy="321.6" r="5.1" fill="#000" stroke="#000" stroke-width="1.4"/>
<circle cx="320.2" cy="298.4" r="5.1" fill="#000" stroke="#000" stroke-width="1.4"/>
<circle cx="350.6" cy="275.8" r="5.1" fill="#000" stroke="#000" stroke-width="1.4"/>
<circle cx="394.2" cy="252.3" r="5.1" fill="#000" stroke="#000" stroke-width="1.4"/>
<circle cx="423.0" cy="228.9" r="5.1" fill="#000" stroke="#000" stroke-width="1.4"/>
<circle cx="463.6" cy="206.5" r="5.1" fill="#000" stroke="#000" stroke-width="1.4"/>
<circle cx="503.7" cy="183.3" r="5.1" fill="#000" stroke="#000" stroke-width="1.4"/>
<circle cx="239.5" cy="366.8" r="5.0" fill="#fff" stroke="#000" stroke-width="1.4"/>
<circle cx="289.2" cy="343.6" r="5.0" fill="#fff" stroke="#000" stroke-width="1.4"/>
<circle cx="335.2" cy="321.0" r="5.0" fill="#fff" stroke="#000" stroke-width="1.4"/>
<circle cx="379.9" cy="298.3" r="5.0" fill="#fff" stroke="#000" stroke-width="1.4"/>
<circle cx="418.2" cy="275.3" r="5.0" fill="#fff" stroke="#000" stroke-width="1.4"/>
<circle cx="457.6" cy="252.3" r="5.0" fill="#fff" stroke="#000" stroke-width="1.4"/>
<circle cx="496.7" cy="228.7" r="5.0" fill="#fff" stroke="#000" stroke-width="1.4"/>
<circle cx="545.2" cy="206.4" r="5.0" fill="#fff" stroke="#000" stroke-width="1.4"/>
<circle cx="591.0" cy="183.3" r="5.0" fill="#fff" stroke="#000" stroke-width="1.4"/>
<rect x="211.5" y="7.7" width="138.0" height="120.0" fill="#fff" stroke="#333" stroke-width="1.1"/>
<text transform="translate(222.3,29.2) scale(1.0,1.0)" font-size="23" fill="#000" font-style="italic" >T</text>
<text transform="translate(233.8,33.8) scale(1.0,1.0)" font-size="16" fill="#000" >Af</text>
<text transform="translate(258.0,29.2) scale(1.0,1.0)" font-size="23" fill="#000" font-style="italic" >T</text>
<text transform="translate(269.6,33.8) scale(1.0,1.0)" font-size="16" fill="#000" >Ms</text>
<line x1="221.5" y1="46.4" x2="248" y2="46.4" stroke="#F7B52C" stroke-width="1.2"/>
<line x1="255.5" y1="46.4" x2="282" y2="46.4" stroke="#F7B52C" stroke-width="1.2"/>
<path d="M234.6,39.8 L241.2,46.4 L234.6,53.0 L228.0,46.4 Z" fill="#fff" stroke="#F7B52C" stroke-width="1.4"/>
<path d="M268.6,40.0 L275.0,46.4 L268.6,52.8 L262.2,46.4 Z" fill="#F7B52C" stroke="#F7B52C" stroke-width="1.4"/>
<text transform="translate(286.0,52.0) scale(1.0,1.0)" font-size="17.2" fill="#000" >CAM#1</text>
<line x1="221.5" y1="69.1" x2="248" y2="69.1" stroke="#0000FF" stroke-width="1.2"/>
<line x1="255.5" y1="69.1" x2="282" y2="69.1" stroke="#0000FF" stroke-width="1.2"/>
<path d="M227.6,69.1 231.1,63.0 238.1,63.0 241.6,69.1 238.1,75.2 231.1,75.2 Z" fill="#fff" stroke="#0000FF" stroke-width="1.4"/>
<path d="M262.0,69.1 265.3,63.4 271.9,63.4 275.2,69.1 271.9,74.8 265.3,74.8 Z" fill="#0000FF" stroke="#0000FF" stroke-width="1.4"/>
<text transform="translate(286.0,74.7) scale(1.0,1.0)" font-size="17.2" fill="#000" >CAM#2</text>
<line x1="221.5" y1="92.4" x2="248" y2="92.4" stroke="#E6007E" stroke-width="1.2"/>
<line x1="255.5" y1="92.4" x2="282" y2="92.4" stroke="#E6007E" stroke-width="1.2"/>
<rect x="228.4" y="86.4" width="12.0" height="12.0" fill="#fff" stroke="#E6007E" stroke-width="1.4"/>
<rect x="262.8" y="86.2" width="12.4" height="12.4" fill="#E6007E" stroke="#E6007E" stroke-width="1.4"/>
<text transform="translate(286.0,98.0) scale(1.0,1.0)" font-size="17.2" fill="#000" >CAM#3</text>
<line x1="221.5" y1="115.6" x2="248" y2="115.6" stroke="#000" stroke-width="1.2"/>
<line x1="255.5" y1="115.6" x2="282" y2="115.6" stroke="#000" stroke-width="1.2"/>
<circle cx="234.5" cy="115.6" r="5.5" fill="#fff" stroke="#000" stroke-width="1.4"/>
<circle cx="268.6" cy="115.6" r="7.2" fill="#000" stroke="#000" stroke-width="1.4"/>
<text transform="translate(286.0,121.2) scale(1.0,1.0)" font-size="17.2" fill="#000" >CAMN</text>
<text transform="translate(399.0,89.9) scale(1.0,1.0)" font-size="23" fill="#E8561A" >Ti-Ni</text>
<text transform="translate(451.0,78.7) scale(1.0,1.0)" font-size="14.5" fill="#E8561A" >6, 27</text>
<text transform="translate(497.0,50.2) scale(1.0,1.0)" font-size="29" fill="#E8561A" font-style="italic" >σ</text>
<text transform="translate(513.0,56.7) scale(1.0,1.0)" font-size="19" fill="#E8561A" >Ms</text>
<text transform="translate(555.5,50.8) scale(1.0,1.0)" font-size="29" fill="#E8561A" font-style="italic" >σ</text>
<text transform="translate(570.0,59.3) scale(1.0,1.0)" font-size="19" fill="#E8561A" >0</text>
<text transform="translate(593.8,73.2) scale(1.0,1.0)" font-size="29" fill="#E8561A" font-style="italic" >σ</text>
<text transform="translate(608.0,79.7) scale(1.0,1.0)" font-size="19" fill="#E8561A" >Af</text>
<path d="M413.3,548.6 C413.8,554.0 415.1,571.1 416.3,580.9 C417.5,590.7 418.9,598.9 420.4,607.4 C421.9,615.9 423.8,624.2 425.5,632.0 C427.2,639.8 429.0,647.2 430.7,654.4 C432.4,661.5 433.4,669.1 435.8,674.9 C438.2,680.7 440.8,684.8 445.0,689.2 C449.2,693.6 455.2,697.4 461.3,701.5 C467.4,705.6 474.9,710.7 481.7,713.7 C488.5,716.8 495.4,718.4 502.2,719.8 C509.0,721.2 515.5,721.5 522.6,721.9 C529.7,722.3 532.1,722.2 545.0,722.3 C557.9,722.4 584.2,722.3 600.0,722.3 C615.8,722.3 633.3,722.3 640.0,722.3" fill="none" stroke="#EE7B3E" stroke-width="2.2" stroke-dasharray="2.2,1.9" stroke-linejoin="round" />
<text transform="translate(378.5,521.6) scale(1.0,1.0)" font-size="24" fill="#E8561A" >Ti-Ni</text>
<text transform="translate(372.5,543.3) scale(1.0,1.0)" font-size="20" fill="#EE7D4A" >from <tspan font-style="italic" dx="1.6">σ</tspan>-<tspan font-style="italic">T</tspan></text>
<text transform="translate(457.6,534.0) scale(1.0,1.0)" font-size="13.2" fill="#EE7D4A" >6, 27</text>
<circle cx="473.2" cy="585.9" r="4.9" fill="none" stroke="#EE7D4A" stroke-width="1.6"/>
<line x1="525.8" y1="572.7" x2="487" y2="582.9" stroke="#EE7D4A" stroke-width="1.6"/>
<path d="M482.4,584.2 L489.8,577.4 L487.6,582.7 L491.9,587.0 Z" fill="#EE7D4A" stroke="#EE7D4A" stroke-width="0.8" stroke-linejoin="round"/>
<text transform="translate(532.5,572.1) scale(1.0,1.0)" font-size="20.5" fill="#EE7D4A" >experiment</text>
<text transform="translate(638.5,561.9) scale(1.0,1.0)" font-size="13.5" fill="#EE7D4A" >27</text>
<path d="M215.6,763.0 L217.6,762.8 L219.6,762.7 L221.6,762.5 L223.7,762.3 L225.7,762.1 L227.7,761.9 L229.7,761.7 L231.7,761.5 L233.7,761.3 L235.7,761.0 L237.7,760.8 L239.8,760.5 L241.8,760.3 L243.8,760.0 L245.8,759.7 L247.8,759.4 L249.8,759.1 L251.8,758.8 L253.8,758.5 L255.9,758.2 L257.9,757.8 L259.9,757.5 L261.9,757.1 L263.9,756.8 L265.9,756.4 L267.9,756.1 L269.9,755.7 L272.0,755.3 L274.0,754.9 L276.0,754.5 L278.0,754.1 L280.0,753.7 L282.0,753.3 L284.0,752.8 L286.0,752.4 L288.1,752.0 L290.1,751.5 L292.1,751.1 L294.1,750.6 L296.1,750.1 L298.1,749.7 L300.1,749.2 L302.1,748.7 L304.2,748.2 L306.2,747.7 L308.2,747.2 L310.2,746.7 L312.2,746.2 L314.2,745.7 L316.2,745.2 L318.2,744.6 L320.3,744.1 L322.3,743.6 L324.3,743.0 L326.3,742.5 L328.3,741.9 L330.3,741.4 L332.3,740.8 L334.4,740.2 L336.4,739.6 L338.4,739.1 L340.4,738.5 L342.4,737.9 L344.4,737.3 L346.4,736.7 L348.4,736.1 L350.5,735.4 L352.5,734.8 L354.5,734.2 L356.5,733.6 L358.5,732.9 L360.5,732.3 L362.5,731.6 L364.5,731.0 L366.6,730.3 L368.6,729.6 L370.6,728.9 L372.6,728.3 L374.6,727.6 L376.6,726.9 L378.6,726.2 L380.6,725.5 L382.7,724.8 L384.7,724.1 L386.7,723.3 L388.7,722.6 L390.7,721.9 L392.7,721.2 L394.7,720.4 L396.7,719.7 L398.8,718.9 L400.8,718.1 L402.8,717.4 L404.8,716.6 L406.8,715.8 L408.8,715.1 L410.8,714.3 L412.8,713.5 L414.9,712.7 L416.9,711.9 L418.9,711.1 L420.9,710.2 L422.9,709.4 L424.9,708.6 L426.9,707.8 L428.9,706.9 L431.0,706.1 L433.0,705.2 L435.0,704.4 L437.0,703.5 L439.0,702.7 L441.0,701.8 L443.0,700.9 L445.1,700.0 L447.1,699.2 L449.1,698.3 L451.1,697.4 L453.1,696.5 L455.1,695.6 L457.1,694.7 L459.1,693.8 L461.2,692.8 L463.2,691.9 L465.2,691.0 L467.2,690.1 L469.2,689.1 L471.2,688.2 L473.2,687.2 L475.2,686.3 L477.3,685.3 L479.3,684.4 L481.3,683.4 L483.3,682.5 L485.3,681.5 L487.3,680.5 L489.3,679.5 L491.3,678.6 L493.4,677.6 L495.4,676.6 L497.4,675.6 L499.4,674.6 L501.4,673.6 L503.4,672.6 L505.4,671.6 L507.4,670.6 L509.5,669.6 L511.5,668.5 L513.5,667.5 L515.5,666.5 L517.5,665.5 L519.5,664.4 L521.5,663.4 L523.5,662.3 L525.6,661.3 L527.6,660.2 L529.6,659.2 L531.6,658.1 L533.6,657.1 L535.6,656.0 L537.6,655.0 L539.6,653.9 L541.7,652.8 L543.7,651.7 L545.7,650.7 L547.7,649.6" fill="none" stroke="#000" stroke-width="1.8" stroke-linejoin="round" />
<path d="M241.8,780.9 L243.8,780.2 L245.9,779.5 L247.9,778.8 L249.9,778.1 L252.0,777.4 L254.0,776.7 L256.0,776.0 L258.1,775.3 L260.1,774.6 L262.1,773.9 L264.2,773.2 L266.2,772.4 L268.2,771.7 L270.3,771.0 L272.3,770.2 L274.3,769.5 L276.4,768.7 L278.4,767.9 L280.4,767.2 L282.5,766.4 L284.5,765.6 L286.5,764.8 L288.6,764.0 L290.6,763.2 L292.7,762.4 L294.7,761.5 L296.7,760.7 L298.8,759.9 L300.8,759.0 L302.8,758.2 L304.9,757.3 L306.9,756.4 L308.9,755.5 L311.0,754.6 L313.0,753.7 L315.0,752.8 L317.1,751.8 L319.1,750.9 L321.1,750.0 L323.2,749.0 L325.2,748.0 L327.2,747.0 L329.3,746.0 L331.3,745.0 L333.3,744.0 L335.4,742.9 L337.4,741.9 L339.4,740.8 L341.5,739.8 L343.5,738.7 L345.5,737.6 L347.6,736.5 L349.6,735.3 L351.6,734.2 L353.7,733.0 L355.7,731.8 L357.7,730.7 L359.8,729.5 L361.8,728.2 L363.8,727.0 L365.9,725.7 L367.9,724.5 L369.9,723.2 L372.0,721.9 L374.0,720.6 L376.0,719.3 L378.1,717.9 L380.1,716.6 L382.1,715.2 L384.2,713.8 L386.2,712.4 L388.2,711.0 L390.3,709.6 L392.3,708.1 L394.4,706.6 L396.4,705.2 L398.4,703.7 L400.5,702.2 L402.5,700.6 L404.5,699.1 L406.6,697.6 L408.6,696.0 L410.6,694.4 L412.7,692.8 L414.7,691.2 L416.7,689.6 L418.8,687.9 L420.8,686.3 L422.8,684.6 L424.9,682.9 L426.9,681.2 L428.9,679.5 L431.0,677.8 L433.0,676.0 L435.0,674.3 L437.1,672.5 L439.1,670.7" fill="none" stroke="#E6007E" stroke-width="1.8" stroke-linejoin="round" />
<path d="M256.3,853.6 L258.3,853.6 L260.4,853.6 L262.4,853.6 L264.4,853.6 L266.4,853.6 L268.4,853.6 L270.5,853.7 L272.5,853.7 L274.5,853.7 L276.6,853.7 L278.6,853.7 L280.6,853.7 L282.6,853.7 L284.7,853.7 L286.7,853.7 L288.7,853.6 L290.7,853.6 L292.8,853.6 L294.8,853.6 L296.8,853.6 L298.8,853.6 L300.9,853.5 L302.9,853.5 L304.9,853.4 L306.9,853.4 L309.0,853.3 L311.0,853.3 L313.0,853.2 L315.0,853.2 L317.1,853.1 L319.1,853.0 L321.1,852.9 L323.1,852.8 L325.2,852.7 L327.2,852.6 L329.2,852.4 L331.2,852.3 L333.2,852.2 L335.3,852.0 L337.3,851.8 L339.3,851.7 L341.4,851.5 L343.4,851.3 L345.4,851.1 L347.4,850.9 L349.5,850.6 L351.5,850.4 L353.5,850.1 L355.5,849.9 L357.6,849.6 L359.6,849.3 L361.6,849.0 L363.6,848.7 L365.7,848.3 L367.7,848.0 L369.7,847.6 L371.7,847.2 L373.8,846.8 L375.8,846.4 L377.8,846.0 L379.8,845.5 L381.9,845.1 L383.9,844.6 L385.9,844.1 L387.9,843.6 L390.0,843.0 L392.0,842.5 L394.0,841.9 L396.0,841.3 L398.1,840.7 L400.1,840.1 L402.1,839.4 L404.1,838.7 L406.2,838.0 L408.2,837.3 L410.2,836.5 L412.2,835.7 L414.2,834.9 L416.3,834.1 L418.3,833.2 L420.3,832.4 L422.4,831.4 L424.4,830.5 L426.4,829.5 L428.4,828.5 L430.5,827.5 L432.5,826.4 L434.5,825.3 L436.5,824.2 L438.6,823.0 L440.6,821.8 L442.6,820.6 L444.6,819.4 L446.7,818.1 L448.7,816.7 L450.7,815.4 L452.7,814.0 L454.8,812.5 L456.8,811.0 L458.8,809.5 L460.8,808.0 L462.9,806.4 L464.9,804.7 L466.9,803.0 L468.9,801.3 L471.0,799.5 L473.0,797.7 L475.0,795.9 L477.0,794.0 L479.1,792.0 L481.1,790.0 L483.1,787.9 L485.1,785.8 L487.2,783.7 L489.2,781.5 L491.2,779.2 L493.2,776.9 L495.3,774.5 L497.3,772.1 L499.3,769.6 L501.3,767.1 L503.4,764.5 L505.4,761.8 L507.4,759.1 L509.4,756.3 L511.5,753.5 L513.5,750.6 L515.5,747.6 L517.5,744.6 L519.6,741.5 L521.6,738.3 L523.6,735.1 L525.6,731.8 L527.7,728.5 L529.7,725.0 L531.7,721.5" fill="none" stroke="#0000FF" stroke-width="1.8" stroke-linejoin="round" />
<path d="M364.7,815.9 L366.7,815.6 L368.8,815.4 L370.8,815.2 L372.8,815.0 L374.9,814.7 L376.9,814.5 L378.9,814.2 L381.0,814.0 L383.0,813.7 L385.0,813.4 L387.1,813.1 L389.1,812.8 L391.1,812.5 L393.2,812.2 L395.2,811.9 L397.2,811.6 L399.3,811.2 L401.3,810.8 L403.3,810.5 L405.4,810.1 L407.4,809.6 L409.4,809.2 L411.5,808.8 L413.5,808.3 L415.5,807.8 L417.6,807.3 L419.6,806.8 L421.6,806.2 L423.7,805.7 L425.7,805.1 L427.7,804.5 L429.8,803.8 L431.8,803.2 L433.8,802.5 L435.9,801.8 L437.9,801.0 L439.9,800.3 L442.0,799.5 L444.0,798.7 L446.0,797.8 L448.1,796.9 L450.1,796.0 L452.1,795.1 L454.2,794.1 L456.2,793.1 L458.2,792.1 L460.2,791.0 L462.3,789.9 L464.3,788.8 L466.3,787.6 L468.4,786.4 L470.4,785.2 L472.4,783.9 L474.5,782.6 L476.5,781.3 L478.5,780.0 L480.6,778.6 L482.6,777.2 L484.6,775.8 L486.7,774.4 L488.7,772.9 L490.7,771.4 L492.8,769.9 L494.8,768.3 L496.8,766.8 L498.9,765.2 L500.9,763.6 L502.9,762.0 L505.0,760.3 L507.0,758.7 L509.0,757.0 L511.1,755.3 L513.1,753.6 L515.1,751.9 L517.2,750.1 L519.2,748.4 L521.2,746.6 L523.3,744.8 L525.3,743.0 L527.3,741.2 L529.4,739.4 L531.4,737.6 L533.4,735.7 L535.5,733.9 L537.5,732.0 L539.5,730.2 L541.6,728.3 L543.6,726.4 L545.6,724.5 L547.7,722.6 L549.7,720.7" fill="none" stroke="#F7B52C" stroke-width="1.8" stroke-linejoin="round" />
<circle cx="215.6" cy="762.6" r="5.4" fill="#fff" stroke="#000" stroke-width="1.4"/>
<circle cx="264.3" cy="758.0" r="5.4" fill="#fff" stroke="#000" stroke-width="1.4"/>
<circle cx="308.2" cy="746.8" r="5.4" fill="#fff" stroke="#000" stroke-width="1.4"/>
<circle cx="350.2" cy="733.0" r="5.4" fill="#fff" stroke="#000" stroke-width="1.4"/>
<circle cx="385.0" cy="706.4" r="5.4" fill="#fff" stroke="#000" stroke-width="1.4"/>
<circle cx="425.8" cy="720.7" r="5.4" fill="#fff" stroke="#000" stroke-width="1.4"/>
<circle cx="460.6" cy="693.6" r="5.4" fill="#fff" stroke="#000" stroke-width="1.4"/>
<circle cx="504.5" cy="669.3" r="5.4" fill="#fff" stroke="#000" stroke-width="1.4"/>
<circle cx="547.5" cy="654.3" r="5.4" fill="#fff" stroke="#000" stroke-width="1.4"/>
<rect x="236.2" y="776.0" width="11.2" height="11.2" fill="#fff" stroke="#E6007E" stroke-width="1.4"/>
<rect x="333.3" y="736.5" width="11.2" height="11.2" fill="#fff" stroke="#E6007E" stroke-width="1.4"/>
<rect x="433.3" y="665.6" width="11.2" height="11.2" fill="#fff" stroke="#E6007E" stroke-width="1.4"/>
<path d="M245.1,849.0 248.3,843.4 254.8,843.4 258.1,849.0 254.8,854.6 248.3,854.6 Z" fill="#fff" stroke="#0000FF" stroke-width="1.4"/>
<path d="M345.9,853.1 349.1,847.5 355.6,847.5 358.9,853.1 355.6,858.7 349.1,858.7 Z" fill="#fff" stroke="#0000FF" stroke-width="1.4"/>
<path d="M446.2,814.0 449.4,808.4 455.9,808.4 459.2,814.0 455.9,819.6 449.4,819.6 Z" fill="#fff" stroke="#0000FF" stroke-width="1.4"/>
<path d="M525.2,720.4 528.5,714.8 535.0,714.8 538.2,720.4 535.0,726.0 528.5,726.0 Z" fill="#fff" stroke="#0000FF" stroke-width="1.4"/>
<path d="M364.7,809.7 L370.9,815.9 L364.7,822.1 L358.5,815.9 Z" fill="#fff" stroke="#F7B52C" stroke-width="1.4"/>
<path d="M457.6,787.2 L463.8,793.4 L457.6,799.6 L451.4,793.4 Z" fill="#fff" stroke="#F7B52C" stroke-width="1.4"/>
<path d="M550.2,714.8 L556.4,721.0 L550.2,727.2 L544.0,721.0 Z" fill="#fff" stroke="#F7B52C" stroke-width="1.4"/>
<rect x="522.7" y="763.8" width="121.5" height="106.2" fill="#fff" stroke="#666" stroke-width="1.1"/>
<line x1="539.1" y1="784.3" x2="565.4" y2="784.3" stroke="#F7B52C" stroke-width="1.2"/>
<path d="M552.2,777.7 L558.8,784.3 L552.2,790.9 L545.6,784.3 Z" fill="#fff" stroke="#F7B52C" stroke-width="1.4"/>
<text transform="translate(572.0,790.3) scale(1.0,1.0)" font-size="17.2" fill="#000" >CAM#1</text>
<line x1="539.1" y1="807.3" x2="565.4" y2="807.3" stroke="#0000FF" stroke-width="1.2"/>
<path d="M545.2,807.3 548.7,801.2 555.7,801.2 559.2,807.3 555.7,813.4 548.7,813.4 Z" fill="#fff" stroke="#0000FF" stroke-width="1.4"/>
<text transform="translate(572.0,813.3) scale(1.0,1.0)" font-size="17.2" fill="#000" >CAM#2</text>
<line x1="539.1" y1="830.3" x2="565.4" y2="830.3" stroke="#E6007E" stroke-width="1.2"/>
<rect x="546.2" y="824.3" width="12.0" height="12.0" fill="#fff" stroke="#E6007E" stroke-width="1.4"/>
<text transform="translate(572.0,836.3) scale(1.0,1.0)" font-size="17.2" fill="#000" >CAM#3</text>
<line x1="539.1" y1="853.5" x2="565.4" y2="853.5" stroke="#000" stroke-width="1.2"/>
<circle cx="552.2" cy="853.5" r="5.4" fill="#fff" stroke="#000" stroke-width="1.4"/>
<text transform="translate(572.0,859.5) scale(1.0,1.0)" font-size="17.2" fill="#000" >CAMN</text>
<path d="M100.8,1245.1 L102.8,1244.9 L104.8,1244.8 L106.8,1244.6 L108.9,1244.4 L110.9,1244.2 L112.9,1244.0 L114.9,1243.8 L116.9,1243.7 L118.9,1243.5 L120.9,1243.3 L123.0,1243.1 L125.0,1242.9 L127.0,1242.8 L129.0,1242.6 L131.0,1242.4 L133.0,1242.2 L135.1,1242.0 L137.1,1241.8 L139.1,1241.7 L141.1,1241.5 L143.1,1241.3 L145.1,1241.1 L147.1,1240.9 L149.2,1240.7 L151.2,1240.5 L153.2,1240.3 L155.2,1240.1 L157.2,1239.9 L159.2,1239.6 L161.2,1239.4 L163.3,1239.2 L165.3,1239.0 L167.3,1238.7 L169.3,1238.5 L171.3,1238.2 L173.3,1238.0 L175.4,1237.7 L177.4,1237.4 L179.4,1237.2 L181.4,1236.9 L183.4,1236.6 L185.4,1236.3 L187.4,1236.0 L189.5,1235.7 L191.5,1235.4 L193.5,1235.0 L195.5,1234.7 L197.5,1234.4 L199.5,1234.0 L201.5,1233.6 L203.6,1233.3 L205.6,1232.9 L207.6,1232.5 L209.6,1232.1 L211.6,1231.7 L213.6,1231.2 L215.7,1230.8 L217.7,1230.3 L219.7,1229.9 L221.7,1229.4 L223.7,1228.9 L225.7,1228.4 L227.7,1227.9 L229.8,1227.4 L231.8,1226.9 L233.8,1226.3 L235.8,1225.8 L237.8,1225.2 L239.8,1224.6 L241.8,1224.0 L243.9,1223.4 L245.9,1222.7 L247.9,1222.1 L249.9,1221.4 L251.9,1220.7 L253.9,1220.0 L255.9,1219.2 L258.0,1218.4 L260.0,1217.6 L262.0,1216.8 L264.0,1215.9 L266.0,1215.0 L268.0,1214.0 L270.1,1213.0 L272.1,1212.0 L274.1,1210.9 L276.1,1209.8 L278.1,1208.6 L280.1,1207.4 L282.1,1206.1 L284.2,1204.8 L286.2,1203.4 L288.2,1202.0 L290.2,1200.6 L292.2,1199.0 L294.2,1197.5 L296.2,1195.9 L298.3,1194.2 L300.3,1192.5 L302.3,1190.7 L304.3,1188.9 L306.3,1187.1 L308.3,1185.2 L310.4,1183.3 L312.4,1181.3 L314.4,1179.3 L316.4,1177.3 L318.4,1175.2 L320.4,1173.1 L322.4,1171.0 L324.5,1168.8 L326.5,1166.7 L328.5,1164.5 L330.5,1162.2 L332.5,1160.0 L334.5,1157.7 L336.5,1155.4 L338.6,1153.2 L340.6,1150.8 L342.6,1148.5 L344.6,1146.2 L346.6,1143.9 L348.6,1141.5 L350.6,1139.2 L352.7,1136.8 L354.7,1134.4 L356.7,1132.0 L358.7,1129.6 L360.7,1127.2 L362.7,1124.8 L364.8,1122.3 L366.8,1119.8 L368.8,1117.4 L370.8,1114.9 L372.8,1112.4 L374.8,1109.8 L376.8,1107.3 L378.9,1104.8 L380.9,1102.2 L382.9,1099.6 L384.9,1097.0 L386.9,1094.4 L388.9,1091.8 L390.9,1089.2 L393.0,1086.6 L395.0,1084.0 L397.0,1081.4 L399.0,1078.8 L401.0,1076.2 L403.0,1073.6 L405.1,1071.0 L407.1,1068.4 L409.1,1065.8 L411.1,1063.2 L413.1,1060.6 L415.1,1058.1 L417.1,1055.6 L419.2,1053.0 L421.2,1050.5 L423.2,1048.1 L425.2,1045.6 L427.2,1043.1 L429.2,1040.7 L431.2,1038.3 L433.3,1036.0 L435.3,1033.6 L437.3,1031.3 L439.3,1029.0 L441.3,1026.8 L443.3,1024.6 L445.4,1022.4 L447.4,1020.3 L449.4,1018.2 L451.4,1016.1 L453.4,1014.1 L455.4,1012.1 L457.4,1010.2 L459.5,1008.3 L461.5,1006.4 L463.5,1004.6 L465.5,1002.9" fill="none" stroke="#EE7B3E" stroke-width="2.2" stroke-dasharray="2.2,1.9" stroke-linejoin="round" />
<path d="M100.8,1245.1 L102.8,1245.2 L104.8,1245.3 L106.8,1245.4 L108.8,1245.6 L110.8,1245.7 L112.9,1245.9 L114.9,1246.0 L116.9,1246.2 L118.9,1246.4 L120.9,1246.6 L122.9,1246.8 L124.9,1247.0 L126.9,1247.2 L128.9,1247.4 L130.9,1247.7 L133.0,1247.9 L135.0,1248.1 L137.0,1248.4 L139.0,1248.6 L141.0,1248.9 L143.0,1249.2 L145.0,1249.4 L147.0,1249.7 L149.0,1250.0 L151.0,1250.2 L153.1,1250.5 L155.1,1250.8 L157.1,1251.1 L159.1,1251.3 L161.1,1251.6 L163.1,1251.9 L165.1,1252.2 L167.1,1252.4 L169.1,1252.7 L171.1,1253.0 L173.2,1253.3 L175.2,1253.5 L177.2,1253.8 L179.2,1254.0 L181.2,1254.3 L183.2,1254.6 L185.2,1254.8 L187.2,1255.0 L189.2,1255.3 L191.2,1255.5 L193.3,1255.7 L195.3,1256.0 L197.3,1256.2 L199.3,1256.4 L201.3,1256.6 L203.3,1256.8 L205.3,1257.0 L207.3,1257.2 L209.3,1257.3 L211.3,1257.5 L213.3,1257.6 L215.4,1257.8 L217.4,1257.9 L219.4,1258.1 L221.4,1258.2 L223.4,1258.3 L225.4,1258.4 L227.4,1258.5 L229.4,1258.6 L231.4,1258.6 L233.4,1258.7 L235.5,1258.7 L237.5,1258.8 L239.5,1258.8 L241.5,1258.8 L243.5,1258.8 L245.5,1258.8 L247.5,1258.8 L249.5,1258.7 L251.5,1258.7 L253.5,1258.6 L255.6,1258.6 L257.6,1258.5 L259.6,1258.4 L261.6,1258.3 L263.6,1258.1 L265.6,1258.0 L267.6,1257.9 L269.6,1257.7 L271.6,1257.5 L273.6,1257.3 L275.7,1257.1 L277.7,1256.9 L279.7,1256.7 L281.7,1256.4 L283.7,1256.1 L285.7,1255.9 L287.7,1255.6 L289.7,1255.3 L291.7,1254.9 L293.7,1254.6 L295.8,1254.2 L297.8,1253.9 L299.8,1253.5 L301.8,1253.1 L303.8,1252.7 L305.8,1252.2 L307.8,1251.8 L309.8,1251.3 L311.8,1250.9 L313.8,1250.4 L315.9,1249.9 L317.9,1249.3 L319.9,1248.8 L321.9,1248.2 L323.9,1247.7 L325.9,1247.1 L327.9,1246.5 L329.9,1245.9 L331.9,1245.2 L333.9,1244.6 L335.9,1243.9 L338.0,1243.2 L340.0,1242.5 L342.0,1241.8 L344.0,1241.1 L346.0,1240.3 L348.0,1239.5 L350.0,1238.7 L352.0,1237.9 L354.0,1237.1 L356.0,1236.3 L358.1,1235.4 L360.1,1234.6 L362.1,1233.7 L364.1,1232.8 L366.1,1231.9 L368.1,1231.0 L370.1,1230.0 L372.1,1229.0 L374.1,1228.1 L376.1,1227.1 L378.2,1226.0 L380.2,1225.0 L382.2,1224.0 L384.2,1222.9 L386.2,1221.8 L388.2,1220.7 L390.2,1219.6 L392.2,1218.5 L394.2,1217.3 L396.2,1216.2 L398.3,1215.0 L400.3,1213.8 L402.3,1212.6 L404.3,1211.3 L406.3,1210.1 L408.3,1208.8 L410.3,1207.6 L412.3,1206.3 L414.3,1204.9 L416.3,1203.6 L418.4,1202.3 L420.4,1200.9 L422.4,1199.5 L424.4,1198.1 L426.4,1196.7 L428.4,1195.3 L430.4,1193.9 L432.4,1192.4 L434.4,1190.9 L436.4,1189.4 L438.4,1187.9 L440.5,1186.4 L442.5,1184.9 L444.5,1183.3 L446.5,1181.7 L448.5,1180.2 L450.5,1178.5 L452.5,1176.9 L454.5,1175.3 L456.5,1173.6 L458.5,1172.0 L460.6,1170.3 L462.6,1168.6 L464.6,1166.9 L466.6,1165.1 L468.6,1163.4 L470.6,1161.6 L472.6,1159.8 L474.6,1158.0 L476.6,1156.2 L478.6,1154.4 L480.7,1152.5 L482.7,1150.7 L484.7,1148.8 L486.7,1146.9 L488.7,1145.0 L490.7,1143.1 L492.7,1141.1 L494.7,1139.2 L496.7,1137.2 L498.7,1135.2 L500.8,1133.2 L502.8,1131.2 L504.8,1129.1 L506.8,1127.1 L508.8,1125.0 L510.8,1122.9 L512.8,1120.8 L514.8,1118.7 L516.8,1116.6 L518.8,1114.4 L520.9,1112.2 L522.9,1110.1 L524.9,1107.8 L526.9,1105.6 L528.9,1103.4 L530.9,1101.1 L532.9,1098.9 L534.9,1096.6 L536.9,1094.3 L538.9,1092.0 L541.0,1089.6 L543.0,1087.3 L545.0,1084.9 L547.0,1082.5 L549.0,1080.1 L551.0,1077.7 L553.0,1075.2 L555.0,1072.8 L557.0,1070.3 L559.0,1067.8 L561.0,1065.3 L563.1,1062.8 L565.1,1060.2 L567.1,1057.6 L569.1,1055.1 L571.1,1052.5 L573.1,1049.8 L575.1,1047.2 L577.1,1044.5 L579.1,1041.9 L581.1,1039.2 L583.2,1036.4 L585.2,1033.7 L587.2,1031.0 L589.2,1028.2 L591.2,1025.4 L593.2,1022.6 L595.2,1019.7 L597.2,1016.9 L599.2,1014.0 L601.2,1011.1 L603.3,1008.2 L605.3,1005.3 L607.3,1002.3 L609.3,999.3 L611.3,996.3 L613.3,993.3 L615.3,990.3 L617.3,987.2 L619.3,984.1 L621.3,981.0 L623.4,977.9 L625.4,974.7 L627.4,971.6 L629.4,968.4 L631.4,965.1 L633.4,961.9 L635.4,958.6 L637.4,955.3 L639.4,952.0 L641.4,948.7 L643.5,945.3 L645.5,941.9 L647.5,938.5 L649.5,935.0 L651.5,931.5 L653.5,928.0" fill="none" stroke="#2E8B57" stroke-width="2.2" stroke-dasharray="2.2,1.9" stroke-linejoin="round" />
<path d="M100.8,1245.0 C102.3,1244.8 107.0,1245.0 110.0,1244.0 C113.0,1243.0 116.0,1241.5 119.0,1239.0 C122.0,1236.5 124.9,1233.1 128.0,1229.0 C131.1,1224.9 134.7,1219.5 137.5,1214.5 C140.3,1209.5 142.6,1204.2 145.0,1199.0 C147.4,1193.8 149.8,1187.8 152.0,1183.0 C154.2,1178.2 155.9,1174.2 158.0,1170.0 C160.1,1165.8 161.1,1164.7 164.6,1158.0 C168.1,1151.3 174.3,1137.9 179.2,1130.1 C184.1,1122.3 188.9,1116.1 193.8,1111.1 C198.7,1106.1 203.5,1102.8 208.4,1100.1 C213.3,1097.4 218.1,1096.1 223.0,1095.0 C227.9,1093.9 233.1,1093.6 237.6,1093.6 C242.1,1093.5 247.2,1094.6 250.0,1094.7 C252.8,1094.8 251.4,1093.9 254.6,1094.2 C257.8,1094.5 264.3,1095.5 269.2,1096.4 C274.1,1097.3 278.9,1098.3 283.8,1099.6 C288.7,1100.9 293.5,1102.7 298.4,1104.0 C303.3,1105.3 308.1,1106.6 313.0,1107.7 C317.9,1108.8 323.1,1109.9 327.6,1110.6 C332.1,1111.3 332.9,1111.3 340.0,1112.0 C347.1,1112.7 360.7,1114.3 370.0,1115.0 C379.3,1115.7 387.4,1115.9 395.7,1115.9 C404.0,1115.9 410.9,1115.2 420.0,1114.8 C429.1,1114.3 441.0,1113.8 450.0,1113.2 C459.0,1112.6 465.5,1112.1 473.8,1111.2 C482.1,1110.3 490.6,1109.1 500.0,1108.0 C509.4,1106.9 520.0,1105.9 530.0,1104.8 C540.0,1103.7 548.3,1103.0 560.0,1101.5 C571.7,1100.0 583.3,1098.3 600.0,1096.0 C616.7,1093.7 650.0,1088.9 660.0,1087.5" fill="none" stroke="#A9A9A3" stroke-width="1.7" stroke-linejoin="round" />
<path d="M100.8,1245.0 C102.0,1244.9 105.7,1244.8 108.0,1244.2 C110.3,1243.6 112.3,1242.6 114.6,1241.2 C116.9,1239.8 119.5,1238.4 121.9,1236.1 C124.3,1233.8 126.8,1230.8 129.2,1227.4 C131.6,1224.0 134.1,1220.1 136.5,1215.7 C138.9,1211.3 141.4,1206.2 143.8,1201.1 C146.2,1196.0 148.7,1190.0 151.1,1185.0 C153.5,1180.0 155.9,1175.5 158.4,1171.2 C160.9,1167.0 162.6,1164.4 166.1,1159.5 C169.6,1154.6 174.6,1147.3 179.2,1141.8 C183.8,1136.3 188.9,1130.7 193.8,1126.4 C198.7,1122.1 203.5,1119.2 208.4,1116.2 C213.3,1113.2 217.7,1110.5 223.0,1108.2 C228.3,1105.9 234.7,1104.0 240.0,1102.5 C245.3,1101.0 249.7,1100.5 254.6,1099.5 C259.5,1098.5 264.3,1097.3 269.2,1096.2 C274.1,1095.1 278.9,1094.1 283.8,1093.1 C288.7,1092.1 293.5,1090.9 298.4,1090.1 C303.3,1089.3 306.1,1088.9 313.0,1088.2 C319.9,1087.5 327.8,1086.6 340.0,1085.8 C352.2,1085.0 373.1,1084.3 386.4,1083.6 C399.7,1082.9 404.4,1082.1 420.0,1081.5 C435.6,1080.9 456.7,1080.4 480.0,1080.0 C503.3,1079.6 530.0,1079.5 560.0,1079.2 C590.0,1078.9 643.3,1078.2 660.0,1078.0" fill="none" stroke="#0000CC" stroke-width="1.8" stroke-linejoin="round" />
<path d="M108.2,1243.9 L113.1,1248.8 L108.2,1253.7 L103.3,1248.8 Z" fill="#fff" stroke="#A0A0A0" stroke-width="1.2"/>
<path d="M119.0,1230.5 L123.9,1235.4 L119.0,1240.3 L114.1,1235.4 Z" fill="#fff" stroke="#A0A0A0" stroke-width="1.2"/>
<path d="M137.7,1208.2 L142.6,1213.1 L137.7,1218.0 L132.8,1213.1 Z" fill="#fff" stroke="#A0A0A0" stroke-width="1.2"/>
<path d="M156.2,1169.9 L161.1,1174.8 L156.2,1179.7 L151.3,1174.8 Z" fill="#fff" stroke="#A0A0A0" stroke-width="1.2"/>
<path d="M175.1,1146.1 L180.0,1151.0 L175.1,1155.9 L170.2,1151.0 Z" fill="#fff" stroke="#A0A0A0" stroke-width="1.2"/>
<path d="M193.5,1134.2 L198.4,1139.1 L193.5,1144.0 L188.6,1139.1 Z" fill="#fff" stroke="#A0A0A0" stroke-width="1.2"/>
<path d="M212.5,1105.2 L217.4,1110.1 L212.5,1115.0 L207.6,1110.1 Z" fill="#fff" stroke="#A0A0A0" stroke-width="1.2"/>
<path d="M231.0,1131.7 L235.9,1136.6 L231.0,1141.5 L226.1,1136.6 Z" fill="#fff" stroke="#A0A0A0" stroke-width="1.2"/>
<path d="M249.5,1124.4 L254.4,1129.3 L249.5,1134.2 L244.6,1129.3 Z" fill="#fff" stroke="#A0A0A0" stroke-width="1.2"/>
<path d="M268.5,1106.1 L273.4,1111.0 L268.5,1115.9 L263.6,1111.0 Z" fill="#fff" stroke="#A0A0A0" stroke-width="1.2"/>
<path d="M286.4,1080.1 L291.3,1085.0 L286.4,1089.9 L281.5,1085.0 Z" fill="#fff" stroke="#A0A0A0" stroke-width="1.2"/>
<path d="M305.4,1099.8 L310.3,1104.7 L305.4,1109.6 L300.5,1104.7 Z" fill="#fff" stroke="#A0A0A0" stroke-width="1.2"/>
<path d="M324.2,1082.3 L329.1,1087.2 L324.2,1092.1 L319.3,1087.2 Z" fill="#fff" stroke="#A0A0A0" stroke-width="1.2"/>
<path d="M342.7,1089.6 L347.6,1094.5 L342.7,1099.4 L337.8,1094.5 Z" fill="#fff" stroke="#A0A0A0" stroke-width="1.2"/>
<path d="M361.7,1096.3 L366.6,1101.2 L361.7,1106.1 L356.8,1101.2 Z" fill="#fff" stroke="#A0A0A0" stroke-width="1.2"/>
<path d="M379.9,1102.5 L384.8,1107.4 L379.9,1112.3 L375.0,1107.4 Z" fill="#fff" stroke="#A0A0A0" stroke-width="1.2"/>
<path d="M119.0,1247.5 124.1,1257.0 113.9,1257.0 Z" fill="#fff" stroke="#A0A0A0" stroke-width="1.2"/>
<path d="M128.3,1248.1 133.4,1257.6 123.2,1257.6 Z" fill="#fff" stroke="#A0A0A0" stroke-width="1.2"/>
<path d="M137.7,1220.5 142.8,1230.0 132.6,1230.0 Z" fill="#fff" stroke="#A0A0A0" stroke-width="1.2"/>
<path d="M156.2,1154.5 161.3,1164.0 151.1,1164.0 Z" fill="#fff" stroke="#A0A0A0" stroke-width="1.2"/>
<path d="M174.8,1119.2 179.9,1128.7 169.7,1128.7 Z" fill="#fff" stroke="#A0A0A0" stroke-width="1.2"/>
<path d="M193.5,1111.9 198.6,1121.4 188.4,1121.4 Z" fill="#fff" stroke="#A0A0A0" stroke-width="1.2"/>
<path d="M212.5,1067.9 217.6,1077.4 207.4,1077.4 Z" fill="#fff" stroke="#A0A0A0" stroke-width="1.2"/>
<path d="M249.5,1068.9 254.6,1078.4 244.4,1078.4 Z" fill="#fff" stroke="#A0A0A0" stroke-width="1.2"/>
<path d="M342.7,1104.0 347.8,1113.5 337.6,1113.5 Z" fill="#fff" stroke="#A0A0A0" stroke-width="1.2"/>
<path d="M398.5,1113.4 403.6,1122.9 393.4,1122.9 Z" fill="#fff" stroke="#A0A0A0" stroke-width="1.2"/>
<circle cx="240.3" cy="1123.8" r="4.65" fill="#fff" stroke="#1a1a1a" stroke-width="1.6"/>
<circle cx="285.7" cy="1104.5" r="4.65" fill="#fff" stroke="#1a1a1a" stroke-width="1.6"/>
<circle cx="329.0" cy="1094.3" r="4.65" fill="#fff" stroke="#1a1a1a" stroke-width="1.6"/>
<circle cx="367.2" cy="1059.0" r="4.65" fill="#fff" stroke="#1a1a1a" stroke-width="1.6"/>
<circle cx="405.5" cy="1092.5" r="4.65" fill="#fff" stroke="#1a1a1a" stroke-width="1.6"/>
<circle cx="442.8" cy="1059.0" r="4.65" fill="#fff" stroke="#1a1a1a" stroke-width="1.6"/>
<circle cx="482.0" cy="1099.4" r="4.65" fill="#fff" stroke="#1a1a1a" stroke-width="1.6"/>
<circle cx="525.8" cy="1097.4" r="4.65" fill="#fff" stroke="#1a1a1a" stroke-width="1.6"/>
<rect x="285.6" y="1083.1" width="8.6" height="8.6" fill="#fff" stroke="#E6007E" stroke-width="1.6"/>
<rect x="383.0" y="1081.0" width="8.6" height="8.6" fill="#fff" stroke="#E6007E" stroke-width="1.6"/>
<path d="M297.8,1087.5 300.1,1083.5 304.6,1083.5 306.8,1087.5 304.6,1091.5 300.1,1091.5 Z" fill="#fff" stroke="#0000FF" stroke-width="1.6"/>
<path d="M397.7,1087.8 399.9,1083.8 404.4,1083.8 406.7,1087.8 404.4,1091.8 399.9,1091.8 Z" fill="#fff" stroke="#0000FF" stroke-width="1.6"/>
<path d="M487.7,1056.3 489.9,1052.3 494.4,1052.3 496.7,1056.3 494.4,1060.3 489.9,1060.3 Z" fill="#fff" stroke="#0000FF" stroke-width="1.6"/>
<path d="M411.0,1063.8 L416.0,1068.8 L411.0,1073.8 L406.0,1068.8 Z" fill="#fff" stroke="#F7B52C" stroke-width="1.5"/>
<path d="M503.2,1065.4 L508.2,1070.4 L503.2,1075.4 L498.2,1070.4 Z" fill="#fff" stroke="#F7B52C" stroke-width="1.5"/>
<text transform="translate(176.0,1011.3) scale(1.0,1.0)" font-size="28.5" fill="#0000CC" >Cu-Al-Mn</text>
<text transform="translate(489.5,945.2) scale(1.0,1.0)" font-size="24" fill="#17743C" >Ni-Mn-Co-In</text>
<text transform="translate(622.3,933.3) scale(1.0,1.0)" font-size="15.5" fill="#17743C" >48</text>
<text transform="translate(414.6,990.9) scale(1.0,1.0)" font-size="24" fill="#E8561A" >Ti-Ni</text>
<text transform="translate(469.6,979.9) scale(1.0,1.0)" font-size="15.5" fill="#E8561A" >6, 27</text>
<rect x="447.6" y="1188.8" width="209.2" height="111.6" fill="#fff" stroke="#666" stroke-width="1.1"/>
<text transform="translate(451.3,1206.6) scale(1.0,1.0)" font-size="20.5" fill="#000" ><tspan font-style="italic">ε</tspan>-<tspan font-style="italic">T</tspan><tspan dx="4.3">curve</tspan></text>
<text transform="translate(545.0,1206.6) scale(1.0,1.0)" font-size="20.5" fill="#000" ><tspan font-style="italic">σ</tspan>-<tspan font-style="italic">ε</tspan><tspan dx="2.6">curve</tspan></text>
<line x1="451.5" y1="1209.8" x2="533" y2="1209.8" stroke="#999" stroke-width="1"/>
<line x1="538.5" y1="1209.8" x2="627.3" y2="1209.8" stroke="#999" stroke-width="1"/>
<path d="M462.5,1220.9 L467.5,1225.9 L462.5,1230.9 L457.5,1225.9 Z" fill="none" stroke="#F7B52C" stroke-width="1.4"/>
<text transform="translate(471.0,1231.5) scale(1.0,1.0)" font-size="16.2" fill="#000" >CAM#1</text>
<path d="M456.9,1247.6 459.7,1242.8 465.3,1242.8 468.1,1247.6 465.3,1252.4 459.7,1252.4 Z" fill="none" stroke="#0000FF" stroke-width="1.4"/>
<text transform="translate(471.0,1253.2) scale(1.0,1.0)" font-size="16.2" fill="#000" >CAM#2</text>
<rect x="457.7" y="1264.5" width="9.6" height="9.6" fill="none" stroke="#E6007E" stroke-width="1.4"/>
<text transform="translate(471.0,1274.9) scale(1.0,1.0)" font-size="16.2" fill="#000" >CAM#3</text>
<circle cx="462.5" cy="1291.2" r="4.3" fill="none" stroke="#000" stroke-width="1.4"/>
<text transform="translate(471.0,1296.8) scale(1.0,1.0)" font-size="16.2" fill="#000" >CAMN</text>
<path d="M540.2,1219.8 545.2,1229.1 535.2,1229.1 Z" fill="none" stroke="#A0A0A0" stroke-width="1.2"/>
<path d="M540.2,1242.4 L545.2,1247.4 L540.2,1252.4 L535.2,1247.4 Z" fill="none" stroke="#A0A0A0" stroke-width="1.2"/>
<text transform="translate(546.5,1231.3) scale(1.0,1.0)" font-size="16.5" fill="#000" >Cu17Al15Mn</text>
<text transform="translate(642.6,1221.8) scale(1.0,1.0)" font-size="11" fill="#000" >41</text>
<text transform="translate(546.5,1253.0) scale(1.0,1.0)" font-size="16.5" fill="#000" >Cu17Al15Mn</text>
<text transform="translate(642.6,1243.7) scale(1.0,1.0)" font-size="11" fill="#000" >41</text>
<line x1="100.8" y1="0.5" x2="100.8" y2="482.4" stroke="#333" stroke-width="1.5"/>
<line x1="659.9" y1="0.5" x2="659.9" y2="482.4" stroke="#333" stroke-width="1.5"/>
<line x1="100.1" y1="0.5" x2="660.6" y2="0.5" stroke="#111" stroke-width="1.9"/>
<line x1="100.1" y1="482.4" x2="660.6" y2="482.4" stroke="#111" stroke-width="1.9"/>
<line x1="100.8" y1="482.4" x2="100.8" y2="898.4" stroke="#333" stroke-width="1.5"/>
<line x1="659.9" y1="482.4" x2="659.9" y2="898.4" stroke="#333" stroke-width="1.5"/>
<line x1="100.1" y1="482.4" x2="660.6" y2="482.4" stroke="#111" stroke-width="1.9"/>
<line x1="100.1" y1="898.4" x2="660.6" y2="898.4" stroke="#111" stroke-width="1.9"/>
<line x1="100.8" y1="898.4" x2="100.8" y2="1314.4" stroke="#333" stroke-width="1.5"/>
<line x1="659.9" y1="898.4" x2="659.9" y2="1314.4" stroke="#333" stroke-width="1.5"/>
<line x1="100.1" y1="898.4" x2="660.6" y2="898.4" stroke="#111" stroke-width="1.9"/>
<line x1="100.1" y1="1314.4" x2="660.6" y2="1314.4" stroke="#111" stroke-width="1.9"/>
</svg></body></html>
